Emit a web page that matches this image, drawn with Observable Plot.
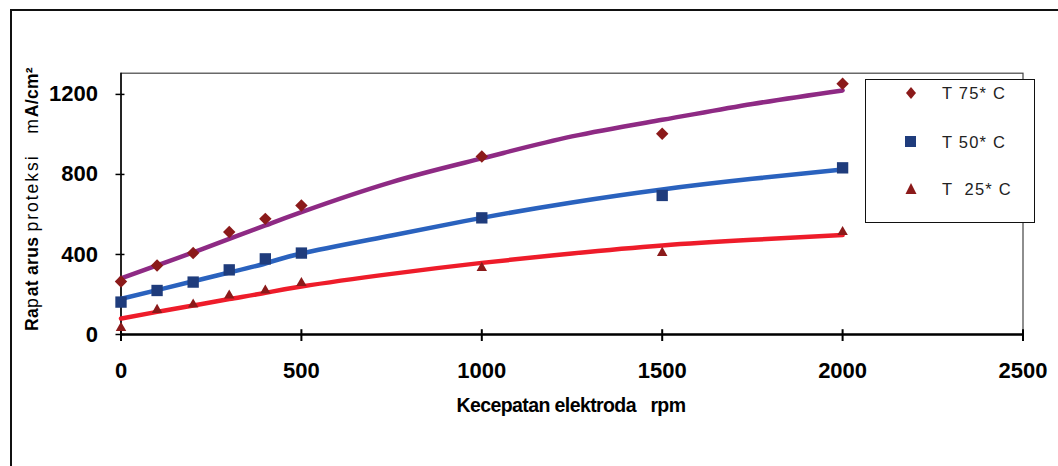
<!DOCTYPE html>
<html>
<head>
<meta charset="utf-8">
<script src="https://cdn.jsdelivr.net/npm/d3@7"></script>
<script src="https://cdn.jsdelivr.net/npm/@observablehq/plot@0.6"></script>
<style>
  html, body { margin: 0; padding: 0; background: #fff; }
  #wrap { position: relative; width: 1058px; height: 466px; overflow: hidden; font-family: "Liberation Sans", Arial, sans-serif; }
  #outer { position: absolute; left: 10px; top: 9px; width: 1100px; height: 500px; border-left: 2px solid #111; border-top: 2px solid #111; pointer-events: none; }
  #legend { position: absolute; left: 865px; top: 79px; width: 168px; height: 142px; border: 1.5px solid #111; background: #fff; }
  .item { position: absolute; left: 0; height: 20px; width: 168px; }
  .item svg { position: absolute; left: 38px; top: 0; }
  .item span { position: absolute; left: 76px; top: 0; font-size: 16.5px; letter-spacing: 1.2px; line-height: 20px; color: #222; white-space: pre; }
</style>
</head>
<body>
<div id="wrap"></div>
<script>
// Data
const rpm = [0, 100, 200, 300, 400, 500, 1000, 1500, 2000];
const t75 = [265, 345, 407, 512, 578, 645, 890, 1003, 1253];
const t50 = [162, 220, 262, 323, 378, 407, 583, 695, 833];
const t25 = [33, 123, 150, 195, 220, 257, 333, 408, 512];

// Trend lines as drawn in the picture
const fitRpm = [0, 100, 200, 300, 400, 500, 750, 1000, 1250, 1500, 1750, 2000];
const fit75 = [280, 345, 410, 478, 545, 612, 762, 880, 990, 1073, 1152, 1220];
const fit50 = [178, 222, 266, 310, 355, 405, 495, 583, 660, 725, 778, 825];
const fit25 = [80, 113, 145, 177, 208, 240, 303, 358, 405, 445, 473, 497];

const xTicks = [0, 500, 1000, 1500, 2000, 2500];
const yTicks = [0, 400, 800, 1200];

const seriesNames = ["T 75* C", "T 50* C", "T  25* C"];
const pts = (ys) => rpm.map((x, i) => ({x, y: ys[i]}));
const fits = (ys) => fitRpm.map((x, i) => ({x, y: ys[i]}));

const tickFont = {fontSize: 22, fontWeight: "bold", letterSpacing: "-1.5px", tickFormat: d => String(d)};

const plot = Plot.plot({
  width: 1058,
  height: 466,
  marginLeft: 120.5,
  marginRight: 35.5,
  marginTop: 72.7,
  marginBottom: 132,
  style: {background: "transparent", fontFamily: "'Liberation Sans', Arial, sans-serif", color: "#000", overflow: "visible"},
  x: {domain: [0, 2500]},
  y: {domain: [0, 1306]},
  marks: [
    Plot.frame({stroke: "#444", strokeWidth: 1.2}),
    Plot.ruleX([0], {stroke: "#000", strokeWidth: 1.5}),
    Plot.ruleY([0], {stroke: "#000", strokeWidth: 2.5}),
    Plot.ruleX(xTicks, {x: d => d, y1: 0, y2: 24, stroke: "#000", strokeWidth: 2}),
    Plot.ruleY(yTicks, {y: d => d, x1: 0, x2: 11, stroke: "#000", strokeWidth: 1.5}),
    Plot.axisX(xTicks, {tickSize: 7, tickPadding: 21, strokeWidth: 2, ...tickFont, label: null}),
    Plot.axisY(yTicks, {tickSize: 5, tickPadding: 18, strokeWidth: 1.5, ...tickFont, label: null}),
    Plot.line(fits(fit75), {x: "x", y: "y", stroke: "#8E2A84", strokeWidth: 4.5, curve: "natural"}),
    Plot.line(fits(fit50), {x: "x", y: "y", stroke: "#2A62BE", strokeWidth: 4.5, curve: "natural"}),
    Plot.line(fits(fit25), {x: "x", y: "y", stroke: "#EE1C2A", strokeWidth: 4.5, curve: "natural"}),
    Plot.dot(pts(t75), {x: "x", y: "y", symbol: "diamond2", r: 5.6, fill: "#8B1A1A", stroke: "none"}),
    Plot.dot(pts(t50), {x: "x", y: "y", symbol: "square", r: 6.4, fill: "#1F3C7C", stroke: "none"}),
    Plot.dot(pts(t25), {x: "x", y: "y", symbol: "triangle2", r: 5, fill: "#8B1A1A", stroke: "none"})
  ]
});

const wrap = document.getElementById("wrap");
wrap.appendChild(plot);

const svg = d3.select(plot);
// x-axis title
svg.append("text")
  .attr("x", 571).attr("y", 412)
  .attr("text-anchor", "middle")
  .attr("font-size", 19.5).attr("font-weight", "bold")
  .attr("letter-spacing", "-0.6px")
  .style("white-space", "pre")
  .attr("fill", "#000")
  .text("Kecepatan elektroda   rpm");

// y-axis title (mixed weights as in the reference)
const yt = svg.append("text")
  .attr("transform", "translate(38,199) rotate(-90)")
  .attr("text-anchor", "middle")
  .attr("font-size", 17.5)
  .attr("fill", "#000")
  .style("white-space", "pre");
[["Ra", "bold"], ["p", "normal"], ["at arus ", "bold"], ["proteksi", "normal"], ["   m", "normal"], ["A/cm²", "bold"]]
  .forEach(([t, w]) => yt.append("tspan").attr("font-weight", w).attr("letter-spacing", w === "normal" ? "2px" : "0.3px").text(t));

// legend
const legend = document.createElement("div");
legend.id = "legend";
const symbols = [
  '<svg width="14" height="20"><path d="M7 4 L12 10 L7 16 L2 10 Z" fill="#8B1A1A"/></svg>',
  '<svg width="14" height="20"><rect x="1" y="4" width="11" height="11" fill="#1F3C7C"/></svg>',
  '<svg width="14" height="20"><path d="M7 4 L12.5 15 L1.5 15 Z" fill="#8B1A1A"/></svg>'
];
const tops = [3, 52, 99];
seriesNames.forEach((name, i) => {
  const it = document.createElement("div");
  it.className = "item";
  it.style.top = tops[i] + "px";
  it.innerHTML = symbols[i] + "<span>" + name + "</span>";
  legend.appendChild(it);
});
wrap.appendChild(legend);

const outer = document.createElement("div");
outer.id = "outer";
wrap.appendChild(outer);
</script>
</body>
</html>
